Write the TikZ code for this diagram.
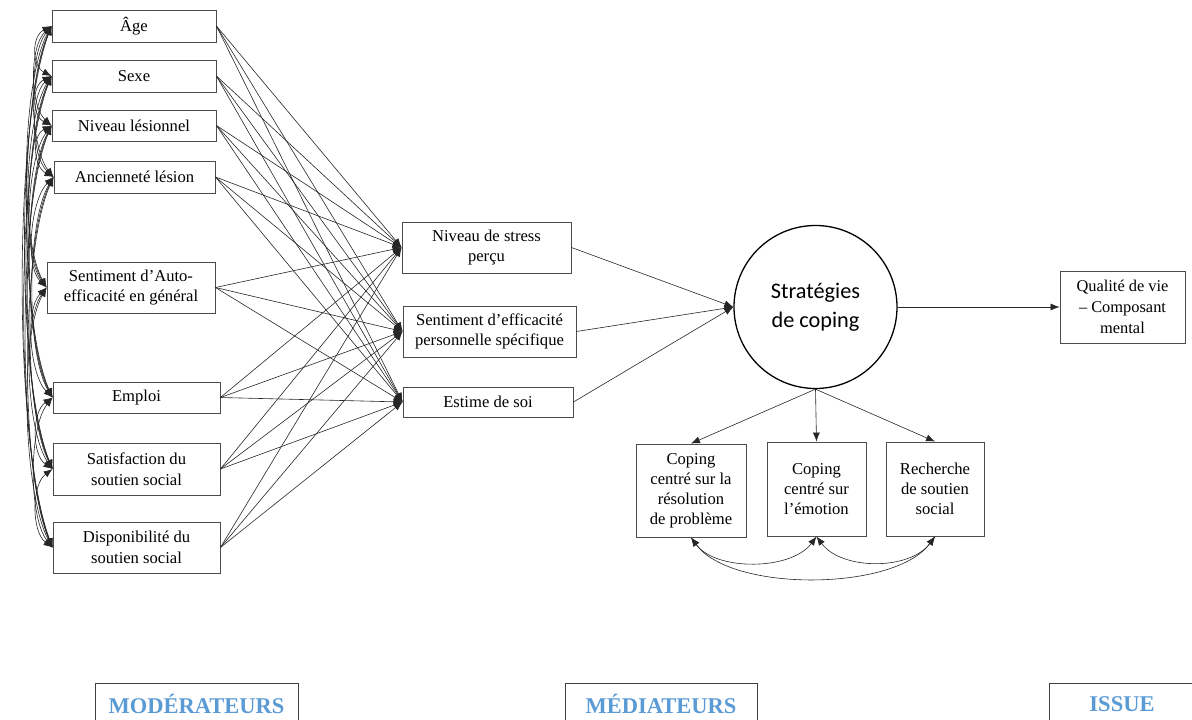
\documentclass[tikz,border=0pt]{standalone}
\usepackage{fontspec}
\setmainfont{Liberation Serif}
\newfontfamily\calib{Carlito}
\usetikzlibrary{arrows.meta}
\definecolor{lblue}{RGB}{91,155,213}
\begin{document}
\begin{tikzpicture}[x=1pt,y=-1pt,
  box/.style={draw=black!70, line width=0.9pt, align=center, font=\fontsize{16.6}{20.5}\selectfont, inner sep=1pt},
  arr/.style={-{Latex[length=9pt,width=7pt]}, line width=0.6pt, black!85},
  cov/.style={{Latex[length=9pt,width=7pt]}-{Latex[length=9pt,width=7pt]}, line width=0.6pt, black!85},
  lbl/.style={font=\fontsize{22.5}{26}\selectfont\bfseries, text=lblue},
  lblframe/.style={draw=black!75, line width=0.9pt}]
\useasboundingbox (0,0) rectangle (1192,720);

% left column (moderators)
\node[box, minimum width=164pt, minimum height=32pt] (L1) at (134,26) {Âge};
\node[box, minimum width=164pt, minimum height=32pt] (L2) at (134,76) {Sexe};
\node[box, minimum width=164pt, minimum height=31pt] (L3) at (134,125.5) {Niveau lésionnel};
\node[box, minimum width=161pt, minimum height=32pt] (L4) at (134.5,177) {Ancienneté lésion};
\node[box, minimum width=168pt, minimum height=51pt] (L5) at (131,287.5) {Sentiment d’Auto-\\efficacité en général};
\node[box, minimum width=167pt, minimum height=31pt] (L6) at (136.5,397.5) {Emploi};
\node[box, minimum width=167pt, minimum height=52pt] (L7) at (136.5,469) {Satisfaction du\\soutien social};
\node[box, minimum width=167pt, minimum height=51pt] (L8) at (136.5,547.5) {Disponibilité du\\soutien social};

% mediators
\node[box, minimum width=169pt, minimum height=51pt] (stress) at (486.5,247.5) {Niveau de stress\\perçu};
\node[box, minimum width=173pt, minimum height=51pt] (eff) at (489.5,331.5) {Sentiment d’efficacité\\personnelle spécifique};
\node[box, minimum width=170pt, minimum height=30pt] (est) at (488,402) {Estime de soi};

% coping
\node[draw=black, line width=1.3pt, circle, minimum size=163pt, align=center,
      font=\calib\fontsize{22.3}{29}\selectfont, inner sep=0pt] (circ) at (815.5,307) {Stratégies\\de coping};

\node[box, minimum width=125pt, minimum height=72pt, font=\fontsize{16.4}{21}\selectfont] (qual) at (1122.5,307) {Qualité de vie\\– Composant\\mental};

\node[box, minimum width=110pt, minimum height=93pt, font=\fontsize{16.6}{20}\selectfont] (A) at (691,490.5) {Coping\\centré sur la\\résolution\\de problème};
\node[box, minimum width=99pt, minimum height=94pt, font=\fontsize{16.6}{20}\selectfont] (B) at (816.5,489) {Coping\\centré sur\\l’émotion};
\node[box, minimum width=98pt, minimum height=94pt, font=\fontsize{16.6}{20}\selectfont] (C) at (935,489) {Recherche\\de soutien\\social};

% moderators -> mediators
\foreach \i in {1,...,8} {
  \foreach \m in {stress,eff,est} {
    \draw[arr] (L\i.east) -- (\m.west);
  }
}

% covariances among moderators
\def\ys{{26,76,125.5,177,287.5,397.5,469,547.5}}
\foreach \i in {1,...,7} {
  \pgfmathtruncatemacro\n{\i+1}
  \foreach \j in {\n,...,8} {
    \pgfmathsetmacro\d{\ys[\j-1]-\ys[\i-1]}
    \pgfmathsetmacro\c{18+0.04*\d}
    \pgfmathsetmacro\v{0.2*\d}
    \draw[cov] (L\i.west) .. controls +(-\c,\v) and +(-\c,-\v) .. (L\j.west);
  }
}

% mediators -> coping
\foreach \m in {stress,eff,est} {
  \draw[arr] (\m.east) -- (circ.west);
}

% coping -> outcome
\draw[arr] (circ.east) -- (qual.west);

% coping -> dimensions
\draw[arr] (circ.south) -- (A.north);
\draw[arr] (circ.south) -- (B.north);
\draw[arr] (circ.south) -- (C.north);

% covariances among dimensions
\draw[cov] (A.south) .. controls +(25,34) and +(-25,34) .. (B.south);
\draw[cov] (B.south) .. controls +(25,34) and +(-25,34) .. (C.south);
\draw[cov] (A.south) .. controls +(40,55) and +(-40,55) .. (C.south);

% bottom labels
\draw[lblframe] (95,722) -- (95,683) -- (298,683) -- (298,722);
\node[lbl] (mod) at (196.5,704) {MODÉRATEURS};
\draw[lblframe] (565,722) -- (565,683) -- (757,683) -- (757,722);
\node[lbl] (med) at (661,704) {MÉDIATEURS};
\draw[lblframe] (1049,722) -- (1049,683) -- (1194,683);
\node[lbl] (iss) at (1122,704) {ISSUE};
\end{tikzpicture}
\end{document}
